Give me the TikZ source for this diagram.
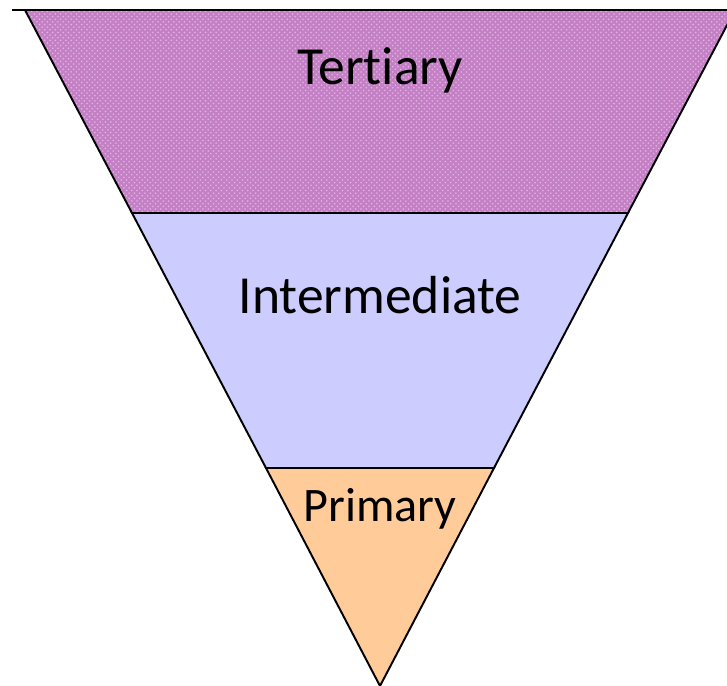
\documentclass[tikz,border=0pt]{standalone}
\usepackage{fontspec}
\setmainfont{Carlito}[Ligatures=NoCommon]
\usetikzlibrary{patterns}
\definecolor{tertiaryfill}{RGB}{196,128,196}
\definecolor{tertiarydots}{RGB}{230,180,230}
\definecolor{intermfill}{RGB}{204,204,255}
\definecolor{primaryfill}{RGB}{255,204,153}
\tikzset{band/.style={draw=black, line width=1.1pt, line join=miter}}

\begin{document}
\begin{tikzpicture}[x=0.02cm, y=-0.02cm]
		%%%%% START %%%%%
		\useasboundingbox (0,0) rectangle (727,686);
		
		\coordinate (apex) at (380,686);
		
		% top band
		\fill[tertiaryfill] (25,10) -- (735,10) -- (628,213) -- (132,213) -- cycle;
		\fill[pattern=crosshatch dots, pattern color=tertiarydots] (25,10) -- (735,10) -- (628,213) -- (132,213) -- cycle;
		\draw[band] (25,10) -- (735,10) -- (628,213) -- (132,213) -- cycle;
		\draw[line width=1.1pt] (12,10) -- (727,10);
		
		% middle band
		\draw[band, fill=intermfill] (132,213) -- (628,213) -- (494,468) -- (266,468) -- cycle;
		
		% bottom band
		\draw[band, fill=primaryfill] (266,468) -- (494,468) -- (apex) -- cycle;
		
		\node[anchor=base, font=\fontsize{30.5}{30.5}\selectfont] (tertiary) at (380,85) {Tertiary};
		\node[anchor=base, font=\fontsize{30.5}{30.5}\selectfont] (intermediate) at (380,313) {Intermediate};
		\node[anchor=base, font=\fontsize{27.4}{27.4}\selectfont] (primary) at (380,521) {Primary};
		
		%%%%% END %%%%%
\end{tikzpicture}
\end{document}
